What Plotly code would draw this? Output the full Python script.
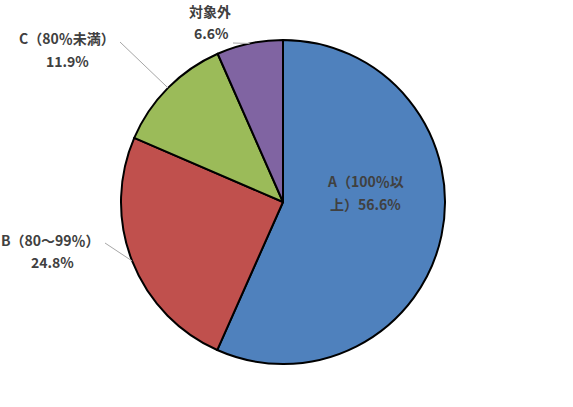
import math
import plotly.graph_objects as go

categories = ["A（100％以上）", "B（80～99％）", "C（80％未満）", "対象外"]
values = [56.6, 24.8, 11.9, 6.6]
colors = ["#4F81BD", "#C0504D", "#9BBB59", "#8064A2"]
value_labels = ["56.6%", "24.8%", "11.9%", "6.6%"]

W, H = 573, 407
cx, cy, r = 283, 202, 162

def px(x):
    return x / W

def py(y):
    return 1 - y / H

fig = go.Figure(go.Pie(
    labels=categories,
    values=values,
    sort=False,
    direction="clockwise",
    rotation=0,
    marker=dict(colors=colors, line=dict(color="#000000", width=2)),
    textinfo="none",
    hoverinfo="label+percent",
    showlegend=False,
    domain=dict(x=[px(cx - r), px(cx + r)], y=[py(cy + r), py(cy - r)]),
))

# slice mid-angles from data (clockwise from 12 o'clock)
total = sum(values)
mids = []
acc = 0
for v in values:
    mids.append((acc + v / 2) / total * 2 * math.pi)
    acc += v

def edge(i):
    t = mids[i]
    return cx + r * math.sin(t), cy - r * math.cos(t)

font = dict(family="Noto Sans CJK JP, Noto Sans, sans-serif", size=14, color="#404040", weight="bold")

# label text lines: (category index, line text, x, y)
label_lines = [
    (0, "A（100％以", 365, 181),
    (0, "上）" + value_labels[0], 365, 204),
    (1, categories[1], 50, 240),
    (1, value_labels[1], 52, 262),
    (2, categories[2], 67, 38),
    (2, value_labels[2], 67, 61),
    (3, categories[3], 210, 11),
    (3, value_labels[3], 211, 33),
]
for _, txt, x, y in label_lines:
    fig.add_annotation(text=txt, x=px(x), y=py(y), xref="paper", yref="paper",
                       showarrow=False, xanchor="center", yanchor="middle", font=font)

# leader lines from label to slice edge
leader_starts = {1: (105, 243), 2: (120, 42), 3: (233, 43)}
for i, (sx, sy) in leader_starts.items():
    ex, ey = edge(i)
    fig.add_shape(type="line", xref="paper", yref="paper",
                  x0=px(sx), y0=py(sy), x1=px(ex), y1=py(ey),
                  line=dict(color="#A6A6A6", width=1))

fig.update_layout(
    width=W, height=H,
    margin=dict(l=0, r=0, t=0, b=0),
    paper_bgcolor="white",
    plot_bgcolor="white",
)

fig.write_html("out.html", config={"displayModeBar": False},
               post_script="document.body.style.margin='0';")
